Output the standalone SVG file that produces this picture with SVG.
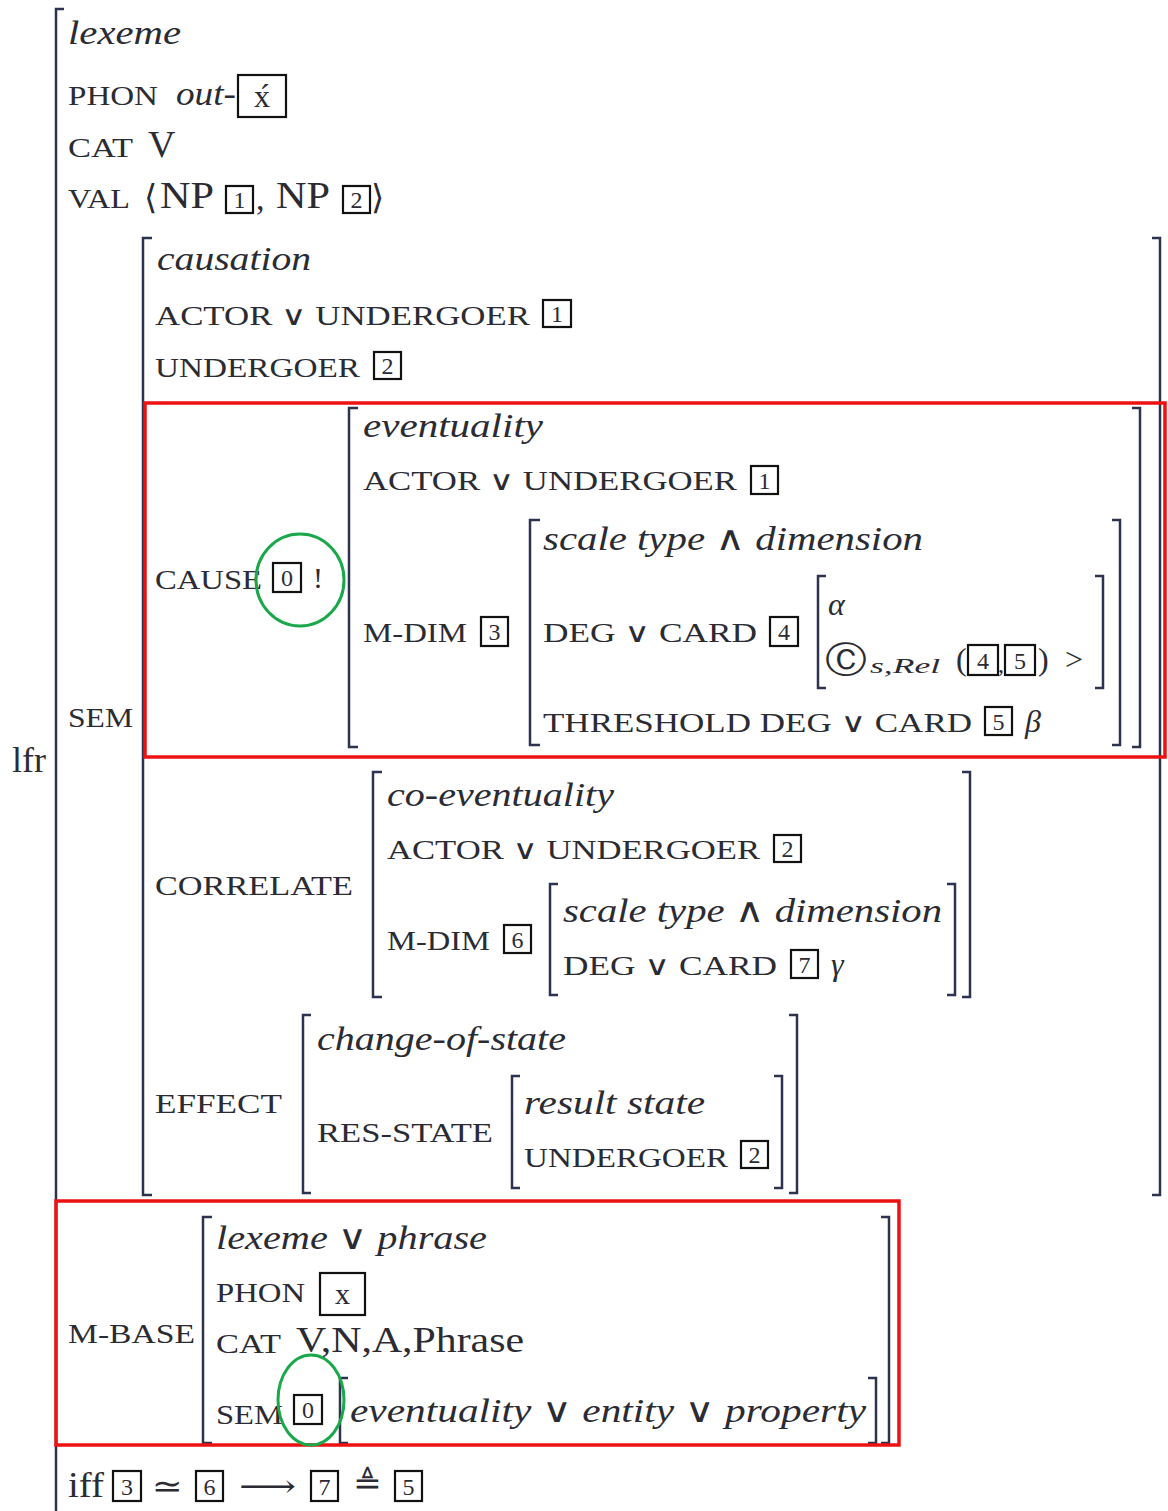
<svg xmlns="http://www.w3.org/2000/svg" width="1168" height="1511" viewBox="0 0 1168 1511">
<style>
text{font-family:"Liberation Serif","DejaVu Serif",serif;fill:#2b2b33}
.lb{font-size:27px}
.it{font-size:34px;font-style:italic}
.bg{font-size:38px}
.n{font-size:24px;text-anchor:middle}
.br{fill:none;stroke:#2c3350;stroke-width:2.5}
.tag{fill:none;stroke:#111;stroke-width:2.2}
.red{fill:none;stroke:#ee1111;stroke-width:3.5}
.grn{fill:none;stroke:#1aa84a;stroke-width:3}
</style>
<rect width="1168" height="1511" fill="#fff"/>

<g id="outer">
<path class="br" d="M64 9H56V1511"/>
<text x="12" y="772" style="font-size:36px" textLength="34" lengthAdjust="spacingAndGlyphs">lfr</text>
<text class="it" x="68" y="44" textLength="113" lengthAdjust="spacingAndGlyphs">lexeme</text>
<text class="lb" x="68" y="105" textLength="90" lengthAdjust="spacingAndGlyphs">PHON</text>
<text class="it" x="176" y="105" textLength="60" lengthAdjust="spacingAndGlyphs">out-</text>
<rect class="tag" x="238" y="75" width="48" height="42"/>
<text x="262" y="107" style="font-size:32px;text-anchor:middle">x́</text>
<text class="lb" x="68" y="157" textLength="65" lengthAdjust="spacingAndGlyphs">CAT</text>
<text class="bg" x="148" y="157">V</text>
<text class="lb" x="68" y="208" textLength="62" lengthAdjust="spacingAndGlyphs">VAL</text>
<text x="144" y="209" style="font-size:34px">⟨</text>
<text class="bg" x="160" y="208" textLength="54" lengthAdjust="spacingAndGlyphs">NP</text>
<rect class="tag" x="226" y="186" width="27" height="27"/><text class="n" x="239.5" y="208">1</text>
<text x="256" y="210" style="font-size:34px">,</text>
<text class="bg" x="276" y="208" textLength="54" lengthAdjust="spacingAndGlyphs">NP</text>
<rect class="tag" x="343" y="186" width="27" height="27"/><text class="n" x="356.5" y="208">2</text>
<text x="371" y="209" style="font-size:34px">⟩</text>
<text class="lb" x="68" y="727" textLength="65" lengthAdjust="spacingAndGlyphs">SEM</text>
</g>

<g id="sem">
<path class="br" d="M152 238H143V1195H152"/>
<path class="br" d="M1152 238H1160V1195H1152"/>
<text class="it" x="157" y="270" textLength="154" lengthAdjust="spacingAndGlyphs">causation</text>
<text class="lb" x="155" y="325" textLength="375" lengthAdjust="spacingAndGlyphs">ACTOR ∨ UNDERGOER</text>
<rect class="tag" x="543" y="300" width="28" height="27"/><text class="n" x="557" y="322">1</text>
<text class="lb" x="155" y="377" textLength="205" lengthAdjust="spacingAndGlyphs">UNDERGOER</text>
<rect class="tag" x="374" y="352" width="27" height="27"/><text class="n" x="387.5" y="374">2</text>
</g>

<g id="cause">
<text class="lb" x="155" y="589" textLength="107" lengthAdjust="spacingAndGlyphs">CAUSE</text>
<rect class="tag" x="273" y="563" width="28" height="29" style="fill:#fff"/><text class="n" x="287" y="586">0</text>
<text x="313" y="588" style="font-size:30px">!</text>
<path class="br" d="M358 408H349V747H358"/>
<path class="br" d="M1132 408H1140V747H1132"/>
<text class="it" x="363" y="437" textLength="180" lengthAdjust="spacingAndGlyphs">eventuality</text>
<text class="lb" x="363" y="490" textLength="374" lengthAdjust="spacingAndGlyphs">ACTOR ∨ UNDERGOER</text>
<rect class="tag" x="751" y="466" width="27" height="28"/><text class="n" x="764.5" y="489">1</text>
<text class="lb" x="363" y="642" textLength="104" lengthAdjust="spacingAndGlyphs">M-DIM</text>
<rect class="tag" x="481" y="617" width="27" height="29"/><text class="n" x="494.5" y="640">3</text>
<path class="br" d="M540 520H530V745H540"/>
<path class="br" d="M1112 520H1120V745H1112"/>
<text class="it" x="543" y="550" textLength="380" lengthAdjust="spacingAndGlyphs">scale type ∧ dimension</text>
<text class="lb" x="543" y="642" textLength="214" lengthAdjust="spacingAndGlyphs">DEG ∨ CARD</text>
<rect class="tag" x="770" y="617" width="28" height="29"/><text class="n" x="784" y="640">4</text>
<path class="br" d="M826 576H818V688H826"/>
<path class="br" d="M1095 576H1103V688H1095"/>
<text class="it" x="828" y="615" style="font-size:32px">α</text>
<text x="825" y="672" style="font-size:36px" textLength="42" lengthAdjust="spacingAndGlyphs">Ⓒ</text>
<text x="870" y="673" style="font-size:21px;font-style:italic" textLength="70" lengthAdjust="spacingAndGlyphs">s,Rel</text>
<text x="956" y="670" style="font-size:32px">(</text>
<rect class="tag" x="968" y="645" width="30" height="30"/><text class="n" x="983" y="669">4</text>
<text x="998" y="672" style="font-size:24px">,</text>
<rect class="tag" x="1005" y="645" width="30" height="30"/><text class="n" x="1020" y="669">5</text>
<text x="1038" y="670" style="font-size:32px">)</text>
<text x="1065" y="670" style="font-size:32px">&gt;</text>
<text class="lb" x="543" y="732" textLength="429" lengthAdjust="spacingAndGlyphs">THRESHOLD DEG ∨ CARD</text>
<rect class="tag" x="985" y="707" width="27" height="28"/><text class="n" x="998.5" y="730">5</text>
<text class="it" x="1025" y="732" style="font-size:32px">β</text>
</g>

<g id="correlate">
<text class="lb" x="155" y="895" textLength="198" lengthAdjust="spacingAndGlyphs">CORRELATE</text>
<path class="br" d="M382 772H373V997H382"/>
<path class="br" d="M962 772H970V997H962"/>
<text class="it" x="387" y="806" textLength="227" lengthAdjust="spacingAndGlyphs">co-eventuality</text>
<text class="lb" x="387" y="859" textLength="373" lengthAdjust="spacingAndGlyphs">ACTOR ∨ UNDERGOER</text>
<rect class="tag" x="774" y="835" width="27" height="27"/><text class="n" x="787.5" y="857">2</text>
<text class="lb" x="387" y="950" textLength="103" lengthAdjust="spacingAndGlyphs">M-DIM</text>
<rect class="tag" x="504" y="925" width="27" height="28"/><text class="n" x="517.5" y="948">6</text>
<path class="br" d="M558 884H550V995H558"/>
<path class="br" d="M947 884H955V995H947"/>
<text class="it" x="563" y="922" textLength="379" lengthAdjust="spacingAndGlyphs">scale type ∧ dimension</text>
<text class="lb" x="563" y="975" textLength="214" lengthAdjust="spacingAndGlyphs">DEG ∨ CARD</text>
<rect class="tag" x="791" y="950" width="27" height="28"/><text class="n" x="804.5" y="973">7</text>
<text class="it" x="831" y="975" style="font-size:32px">γ</text>
</g>

<g id="effect">
<text class="lb" x="155" y="1113" textLength="127" lengthAdjust="spacingAndGlyphs">EFFECT</text>
<path class="br" d="M311 1015H303V1193H311"/>
<path class="br" d="M789 1015H797V1193H789"/>
<text class="it" x="317" y="1050" textLength="249" lengthAdjust="spacingAndGlyphs">change-of-state</text>
<text class="lb" x="317" y="1142" textLength="176" lengthAdjust="spacingAndGlyphs">RES-STATE</text>
<path class="br" d="M520 1076H512V1188H520"/>
<path class="br" d="M774 1076H782V1188H774"/>
<text class="it" x="524" y="1114" textLength="181" lengthAdjust="spacingAndGlyphs">result state</text>
<text class="lb" x="524" y="1167" textLength="204" lengthAdjust="spacingAndGlyphs">UNDERGOER</text>
<rect class="tag" x="741" y="1141" width="27" height="27"/><text class="n" x="754.5" y="1163">2</text>
</g>

<g id="mbase">
<text class="lb" x="68" y="1343" textLength="127" lengthAdjust="spacingAndGlyphs">M-BASE</text>
<path class="br" d="M212 1217H203V1443H212"/>
<path class="br" d="M881 1217H889V1443H881"/>
<text class="it" x="216" y="1249" textLength="271" lengthAdjust="spacingAndGlyphs">lexeme ∨ phrase</text>
<text class="lb" x="216" y="1302" textLength="89" lengthAdjust="spacingAndGlyphs">PHON</text>
<rect class="tag" x="320" y="1273" width="45" height="42"/>
<text x="342.5" y="1304" style="font-size:30px;text-anchor:middle">x</text>
<text class="lb" x="216" y="1353" textLength="65" lengthAdjust="spacingAndGlyphs">CAT</text>
<text x="296" y="1352" style="font-size:36px" textLength="228" lengthAdjust="spacingAndGlyphs">V,N,A,Phrase</text>
<text class="lb" x="216" y="1424" textLength="67" lengthAdjust="spacingAndGlyphs">SEM</text>
<rect class="tag" x="294" y="1395" width="28" height="29" style="fill:#fff"/><text class="n" x="308" y="1418">0</text>
<path class="br" d="M348 1378H340V1443H348"/>
<path class="br" d="M868 1378H876V1443H868"/>
<text class="it" x="350" y="1422" textLength="516" lengthAdjust="spacingAndGlyphs">eventuality ∨ entity ∨ property</text>
</g>

<g id="condition">
<text x="68" y="1497" style="font-size:36px" textLength="36" lengthAdjust="spacingAndGlyphs">iff</text>
<rect class="tag" x="113" y="1471" width="28" height="30"/><text class="n" x="127" y="1495">3</text>
<text x="152" y="1497" style="font-size:32px" textLength="31" lengthAdjust="spacingAndGlyphs">≃</text>
<rect class="tag" x="196" y="1471" width="27" height="30"/><text class="n" x="209.5" y="1495">6</text>
<text x="239" y="1497" style="font-size:32px" textLength="57" lengthAdjust="spacingAndGlyphs">⟶</text>
<rect class="tag" x="311" y="1471" width="27" height="30"/><text class="n" x="324.5" y="1495">7</text>
<text x="353" y="1494" style="font-size:32px" textLength="29" lengthAdjust="spacingAndGlyphs">≜</text>
<rect class="tag" x="395" y="1471" width="27" height="30"/><text class="n" x="408.5" y="1495">5</text>
</g>

<g id="highlights">
<rect class="red" x="145" y="403" width="1020" height="354"/>
<rect class="red" x="56" y="1201" width="843" height="244"/>
<ellipse class="grn" cx="300" cy="580" rx="44" ry="46"/>
<ellipse class="grn" cx="311" cy="1400" rx="33" ry="45"/>
</g>
</svg>
